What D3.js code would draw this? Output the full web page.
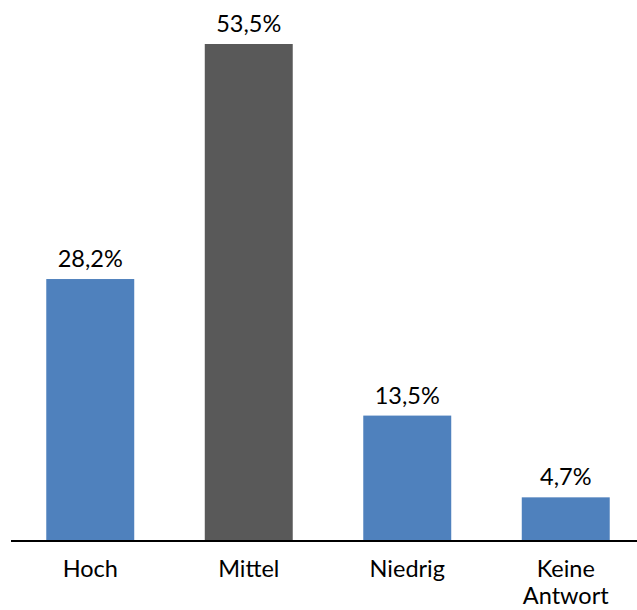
<!DOCTYPE html>
<html>
<head>
<meta charset="utf-8">
<script src="https://cdn.jsdelivr.net/npm/d3@7"></script>
<style>
  html, body { margin: 0; padding: 0; background: #fff; }
  svg { display: block; }
  text { font-family: "Lato", "Open Sans", sans-serif; fill: #000; }
</style>
</head>
<body>
<div id="chart"></div>
<script>
// Einschätzung: Anteile je Kategorie in Prozent
const categories = ["Hoch", "Mittel", "Niedrig", "Keine Antwort"];
const values = [28.2, 53.5, 13.5, 4.7];
const barColors = ["#4F81BD", "#595959", "#4F81BD", "#4F81BD"];

const width = 637, height = 610;
const fontSize = 23.5;
const svg = d3.select("#chart").append("svg")
  .attr("width", width).attr("height", height);

const pad = 0.445;
const x = d3.scaleBand()
  .domain(categories)
  .range([11, 645])
  .paddingInner(pad)
  .paddingOuter(pad / 2);

const y = d3.scaleLinear()
  .domain([0, 53.5])
  .range([541, 44]);

const fmt = v => d3.format(".1f")(v).replace(".", ",") + "%";

// Balken
svg.selectAll("rect.bar")
  .data(values)
  .join("rect")
  .attr("class", "bar")
  .attr("x", (d, i) => x(categories[i]))
  .attr("width", x.bandwidth())
  .attr("y", d => y(d))
  .attr("height", d => y(0) - y(d))
  .attr("fill", (d, i) => barColors[i]);

// Wertbeschriftungen
svg.selectAll("text.val")
  .data(values)
  .join("text")
  .attr("class", "val")
  .attr("x", (d, i) => x(categories[i]) + x.bandwidth() / 2)
  .attr("y", d => y(d) - 12)
  .attr("text-anchor", "middle")
  .style("font-size", fontSize + "px")
  .text(d => fmt(d));

// Kategorienachse
const axis = svg.append("g")
  .attr("transform", `translate(0,${y(0)})`)
  .call(d3.axisBottom(x).tickSize(0).tickPadding(0));
axis.select(".domain").remove();
axis.selectAll(".tick text").remove();

svg.append("line")
  .attr("x1", 11).attr("x2", width)
  .attr("y1", y(0)).attr("y2", y(0))
  .attr("stroke", "#000").attr("stroke-width", 2);

axis.selectAll(".tick").each(function(d) {
  const words = d.split(" ");
  const t = d3.select(this).append("text")
    .attr("text-anchor", "middle")
    .attr("fill", "#000")
    .style("font-size", fontSize + "px")
    .style("font-family", "Lato, 'Open Sans', sans-serif");
  words.forEach((w, k) => {
    t.append("tspan").attr("x", 0).attr("y", 36 + k * 27).text(w);
  });
});
</script>
</body>
</html>
